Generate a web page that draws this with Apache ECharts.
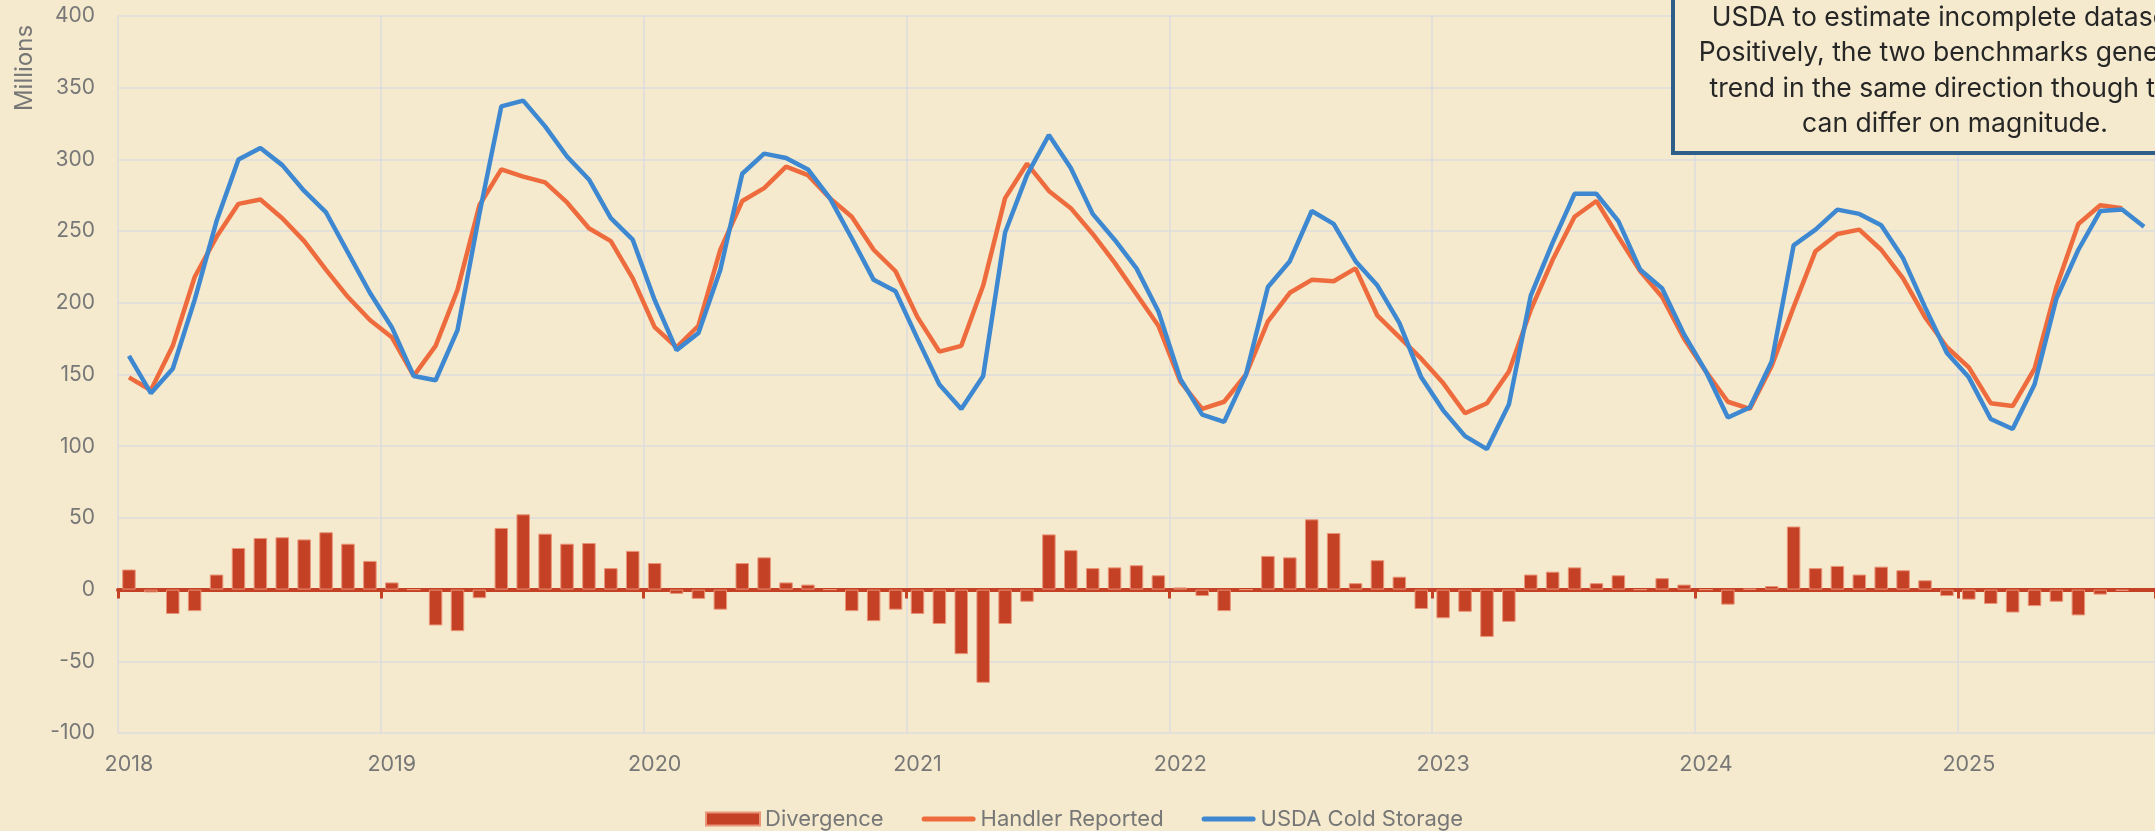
<!DOCTYPE html>
<html>
<head>
<meta charset="utf-8">
<script src="https://cdn.jsdelivr.net/npm/echarts@6/dist/echarts.min.js"></script>
<style>
  html, body { margin: 0; padding: 0; background: #F5EACD; }
  #chart { width: 2155px; height: 831px; }
</style>
</head>
<body>
<div id="chart"></div>
<script>
// Monthly milk-in-storage comparison, Jan 2018 – Sep 2025 (millions)
const years = [2018, 2019, 2020, 2021, 2022, 2023, 2024, 2025];
const monthsInLastYear = 9;
const yearLabels = ['2018', '2019', '2020', '2021', '2022', '2023', '2024', '2025'];

// Handler-reported inventory (ends Aug 2025)
const handlerReported = [
  148, 139, 170, 218, 246, 269, 272, 259, 243, 223, 204, 188,
  176, 149, 170, 209, 268, 293, 288, 284, 270, 252, 243, 217,
  183, 169, 184, 237, 271, 280, 295, 289, 273, 260, 237, 222,
  190, 166, 170, 212, 273, 297, 278, 266, 248, 228, 206, 184,
  145, 126, 131, 150, 187, 207, 216, 215, 224, 191, 176, 161,
  144, 123, 130, 152, 195, 230, 260, 271, 246, 222, 204, 175,
  152, 131, 126, 156, 197, 236, 248, 251, 237, 217, 190, 169,
  155, 130, 128, 154, 211, 255, 268, 266
];

// USDA Cold Storage report (ends Sep 2025)
const usdaColdStorage = [
  163, 137, 154, 202, 257, 300, 308, 296, 278, 263, 235, 207,
  183, 149, 146, 181, 262, 337, 341, 323, 302, 286, 259, 244,
  202, 167, 179, 223, 290, 304, 301, 293, 273, 245, 216, 208,
  175, 143, 126, 149, 249, 289, 317, 294, 262, 244, 224, 194,
  147, 122, 117, 150, 211, 229, 264, 255, 229, 212, 186, 148,
  125, 107, 98, 129, 205, 242, 276, 276, 257, 223, 210, 178,
  152, 120, 127, 159, 240, 251, 265, 262, 254, 231, 197, 165,
  148, 119, 112, 143, 203, 237, 264, 265, 253
];

// USDA minus handler figure
const divergence = [
  14, -2, -17, -15, 10.5, 29, 36, 36.5, 35, 40, 32, 20,
  5, 0, -25, -29, -6, 43, 52.5, 39, 32, 32.5, 15, 27,
  18.5, -3, -6.5, -14, 18.5, 22.5, 5, 3.5, 0, -15, -22, -14,
  -17, -24, -45, -65, -24, -8.5, 38.5, 27.5, 15, 15.5, 17, 10,
  1.5, -4.5, -15, 0, 23.5, 22.5, 49, 39.5, 4.5, 20.5, 9, -13.5,
  -20, -15.5, -33, -22.5, 10.5, 12.5, 15.5, 4.5, 10, 0, 8, 3.5,
  0, -10.5, 0.5, 2.5, 44, 15, 16.5, 10.5, 16, 13.5, 6.5, -4.5,
  -7, -10, -16, -11.5, -8.5, -18, -3.5, -1
];

const noteLines = [
  'USDA to estimate incomplete datasets.',
  'Positively, the two benchmarks generally',
  'trend in the same direction though they',
  'can differ on magnitude.'
];

// One category per month
const categories = [];
years.forEach(function (y, yi) {
  const n = yi === years.length - 1 ? monthsInLastYear : 12;
  for (let m = 1; m <= n; m++) categories.push(y + '-' + (m < 10 ? '0' + m : m));
});

const FONT = 'Inter, "Open Sans", sans-serif';
const BG = '#F5EACD';
const GRID = '#DCDBDC';
const AXIS_TEXT = '#777777';
const BAR = '#C44125';
const ORANGE = '#EE6B3D';
const BLUE = '#3D88D0';
const LINE_ICON = 'path://M2.5,0 H51.5 A2.5,2.5 0 0 1 51.5,5 H2.5 A2.5,2.5 0 0 1 2.5,0 Z';

const chart = echarts.init(document.getElementById('chart'), null, { renderer: 'canvas' });

chart.setOption({
  backgroundColor: BG,
  animation: false,
  textStyle: { fontFamily: FONT },
  grid: { left: 118, right: 0, top: 16, bottom: 98, containLabel: false },
  legend: {
    left: 700,
    top: 803,
    itemWidth: 54,
    itemHeight: 13,
    itemGap: 38,
    textStyle: { color: AXIS_TEXT, fontSize: 22, fontFamily: FONT },
    data: [
      { name: 'Divergence', icon: 'rect' },
      { name: 'Handler Reported', icon: LINE_ICON },
      { name: 'USDA Cold Storage', icon: LINE_ICON }
    ]
  },
  xAxis: [
    {
      type: 'category',
      data: categories,
      position: 'bottom',
      boundaryGap: true,
      axisLine: { show: false, onZero: false },
      axisTick: { show: false },
      axisLabel: {
        interval: function (i) { return i % 12 === 0; },
        formatter: function (v, i) { return yearLabels[Math.floor(i / 12)]; },
        color: AXIS_TEXT,
        fontSize: 21.5,
        margin: 21
      },
      splitLine: {
        show: true,
        interval: function (i) { return i % 12 === 0; },
        lineStyle: { color: GRID, width: 1.5 }
      }
    },
    {
      // zero baseline with year ticks
      type: 'category',
      data: categories,
      position: 'top',
      boundaryGap: true,
      axisLine: { show: true, onZero: true, lineStyle: { color: BAR, width: 4 } },
      axisTick: { show: true, inside: true, interval: 11, length: 9, lineStyle: { color: BAR, width: 3 } },
      axisLabel: { show: false },
      splitLine: { show: false }
    }
  ],
  yAxis: {
    type: 'value',
    min: -100,
    max: 400,
    interval: 50,
    axisLine: { show: false },
    axisTick: { show: false },
    axisLabel: { color: AXIS_TEXT, fontSize: 21, margin: 23 },
    splitLine: { show: true, lineStyle: { color: GRID, width: 1.5 } }
  },
  series: [
    {
      name: 'Divergence',
      type: 'bar',
      xAxisIndex: 0,
      data: divergence,
      barWidth: 13.5,
      itemStyle: { color: BAR, borderColor: '#EA9478', borderWidth: 1 },
      z: 2
    },
    {
      name: 'Handler Reported',
      type: 'line',
      xAxisIndex: 0,
      data: handlerReported,
      symbol: 'none',
      lineStyle: { color: ORANGE, width: 4.5 },
      itemStyle: { color: ORANGE },
      z: 3
    },
    {
      name: 'USDA Cold Storage',
      type: 'line',
      xAxisIndex: 0,
      data: usdaColdStorage,
      symbol: 'none',
      lineStyle: { color: BLUE, width: 4.5 },
      itemStyle: { color: BLUE },
      z: 4
    }
  ],
  graphic: [
    {
      type: 'text',
      x: 25,
      y: 68,
      rotation: Math.PI / 2,
      style: {
        text: 'Millions',
        fill: AXIS_TEXT,
        font: '24px ' + FONT,
        align: 'center',
        verticalAlign: 'middle'
      }
    },
    {
      type: 'rect',
      z: 100,
      shape: { x: 1673, y: -60, width: 564, height: 213 },
      style: { fill: BG, stroke: '#2F5E88', lineWidth: 4 }
    },
    {
      type: 'text',
      z: 101,
      x: 1955,
      y: 71,
      style: {
        text: noteLines.join('\n'),
        fill: '#262626',
        font: '26.5px ' + FONT,
        lineHeight: 35.4,
        align: 'center',
        verticalAlign: 'middle'
      }
    }
  ]
});
</script>
</body>
</html>
